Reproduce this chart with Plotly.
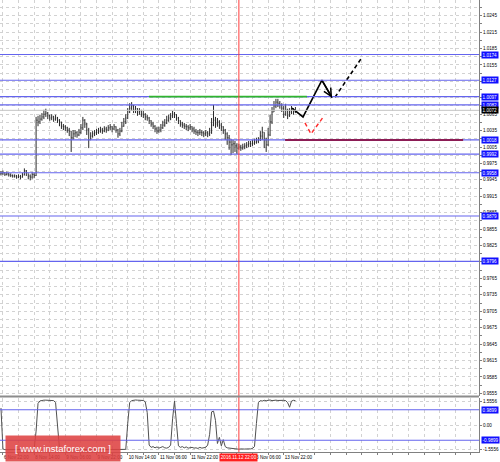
import plotly.graph_objects as go

# ---------------- data ----------------
closes = [
    0.9957, 0.9958, 0.9955, 0.9956, 0.9954, 0.9953, 0.9952, 0.9952, 0.9950, 0.9951,
    0.9950, 0.9954, 0.9962, 0.9958, 0.9952, 0.9950, 0.9955, 0.9953, 1.0054, 1.0051,
    1.0056, 1.0060, 1.0065, 1.0067, 1.0062, 1.0058, 1.0060, 1.0056, 1.0058, 1.0054,
    1.0051, 1.0043, 1.0042, 1.0040, 1.0036, 1.0034, 1.0022, 1.0029, 1.0031, 1.0027,
    1.0032, 1.0040, 1.0054, 1.0047, 1.0036, 1.0018, 1.0025, 1.0029, 1.0031, 1.0032,
    1.0034, 1.0036, 1.0034, 1.0038, 1.0036, 1.0040, 1.0042, 1.0038, 1.0042, 1.0036,
    1.0029, 1.0034, 1.0043, 1.0051, 1.0058, 1.0069, 1.0076, 1.0080, 1.0073, 1.0075,
    1.0069, 1.0071, 1.0065, 1.0064, 1.0060, 1.0058, 1.0053, 1.0047, 1.0043, 1.0038,
    1.0034, 1.0036, 1.0040, 1.0045, 1.0049, 1.0054, 1.0058, 1.0062, 1.0065, 1.0064,
    1.0058, 1.0053, 1.0047, 1.0045, 1.0043, 1.0042, 1.0040, 1.0042, 1.0038, 1.0034,
    1.0032, 1.0031, 1.0032, 1.0031, 1.0029, 1.0031, 1.0029, 1.0032, 1.0045, 1.0054,
    1.0047, 1.0051, 1.0045, 1.0042, 1.0036, 1.0029, 1.0022, 1.0014, 1.0009, 1.0011,
    1.0007, 1.0003, 1.0005, 1.0003, 1.0005, 1.0007, 1.0009, 1.0011, 1.0011, 1.0012,
    1.0014, 1.0016, 1.0018, 1.0025, 1.0032, 1.0018, 1.0009, 1.0027, 1.0051, 1.0069,
    1.0080, 1.0087, 1.0085, 1.0082, 1.0076, 1.0065, 1.0073, 1.0062, 1.0069, 1.0073,
    1.0069, 1.0072,
]
highs = [
    0.9961, 0.9962, 0.9959, 0.9960, 0.9958, 0.9957, 0.9955, 0.9955, 0.9954, 0.9955,
    0.9954, 0.9958, 0.9966, 0.9963, 0.9957, 0.9955, 0.9959, 0.9958, 1.0060, 1.0062,
    1.0064, 1.0067, 1.0073, 1.0075, 1.0069, 1.0064, 1.0065, 1.0062, 1.0064, 1.0060,
    1.0056, 1.0051, 1.0047, 1.0045, 1.0042, 1.0040, 1.0034, 1.0036, 1.0036, 1.0034,
    1.0038, 1.0047, 1.0060, 1.0056, 1.0049, 1.0040, 1.0032, 1.0034, 1.0036, 1.0038,
    1.0040, 1.0042, 1.0040, 1.0043, 1.0042, 1.0045, 1.0047, 1.0043, 1.0047, 1.0043,
    1.0038, 1.0040, 1.0051, 1.0058, 1.0065, 1.0076, 1.0085, 1.0087, 1.0082, 1.0080,
    1.0076, 1.0076, 1.0073, 1.0071, 1.0067, 1.0064, 1.0060, 1.0054, 1.0051, 1.0045,
    1.0042, 1.0042, 1.0047, 1.0053, 1.0056, 1.0062, 1.0064, 1.0067, 1.0071, 1.0069,
    1.0065, 1.0060, 1.0054, 1.0051, 1.0049, 1.0047, 1.0045, 1.0047, 1.0043, 1.0042,
    1.0038, 1.0036, 1.0038, 1.0036, 1.0034, 1.0036, 1.0034, 1.0040, 1.0058, 1.0082,
    1.0060, 1.0058, 1.0054, 1.0049, 1.0043, 1.0038, 1.0032, 1.0027, 1.0020, 1.0018,
    1.0016, 1.0012, 1.0011, 1.0009, 1.0011, 1.0012, 1.0014, 1.0016, 1.0016, 1.0018,
    1.0020, 1.0022, 1.0023, 1.0034, 1.0042, 1.0032, 1.0022, 1.0040, 1.0064, 1.0078,
    1.0089, 1.0093, 1.0093, 1.0089, 1.0085, 1.0080, 1.0084, 1.0075, 1.0076, 1.0080,
    1.0076, 1.0078,
]
lows = [
    0.9953, 0.9954, 0.9952, 0.9953, 0.9951, 0.9950, 0.9949, 0.9949, 0.9947, 0.9948,
    0.9946, 0.9949, 0.9953, 0.9952, 0.9946, 0.9944, 0.9947, 0.9948, 0.9952, 1.0043,
    1.0047, 1.0053, 1.0056, 1.0060, 1.0056, 1.0053, 1.0054, 1.0051, 1.0053, 1.0049,
    1.0043, 1.0038, 1.0036, 1.0034, 1.0031, 1.0025, 0.9996, 1.0018, 1.0023, 1.0022,
    1.0025, 1.0029, 1.0036, 1.0040, 1.0027, 1.0003, 1.0018, 1.0022, 1.0025, 1.0027,
    1.0029, 1.0031, 1.0029, 1.0032, 1.0031, 1.0034, 1.0036, 1.0032, 1.0036, 1.0031,
    1.0022, 1.0025, 1.0032, 1.0042, 1.0047, 1.0056, 1.0067, 1.0071, 1.0067, 1.0067,
    1.0062, 1.0064, 1.0060, 1.0058, 1.0054, 1.0053, 1.0047, 1.0042, 1.0038, 1.0032,
    1.0029, 1.0031, 1.0032, 1.0038, 1.0042, 1.0047, 1.0051, 1.0054, 1.0058, 1.0058,
    1.0053, 1.0047, 1.0042, 1.0040, 1.0038, 1.0036, 1.0034, 1.0036, 1.0032, 1.0029,
    1.0027, 1.0025, 1.0027, 1.0025, 1.0023, 1.0025, 1.0023, 1.0025, 1.0029, 1.0043,
    1.0040, 1.0042, 1.0038, 1.0034, 1.0029, 1.0018, 1.0009, 1.0000, 0.9990, 0.9994,
    0.9996, 0.9992, 1.0000, 0.9998, 1.0000, 1.0001, 1.0003, 1.0005, 1.0005, 1.0007,
    1.0009, 1.0011, 1.0012, 1.0016, 1.0018, 1.0003, 0.9996, 1.0007, 1.0025, 1.0047,
    1.0069, 1.0076, 1.0078, 1.0075, 1.0069, 1.0058, 1.0062, 1.0056, 1.0060, 1.0065,
    1.0064, 1.0067,
]
first_open = 0.9956

indicator = [
    1.10, -1.55, -1.60, -1.60, -1.61, -1.60, -1.61, -1.60, -1.60, -1.61,
    -1.60, -1.60, -1.59, -1.60, -1.61, -1.60, -1.60, -1.58, -0.40, 1.40,
    1.56, 1.60, 1.61, 1.61, 1.60, 1.61, 1.60, 1.58, 1.45, -0.30,
    -1.52, -1.60, -1.61, -1.60, -1.60, -1.61, -1.60, -1.60, -1.61, -1.60,
    -1.60, -1.61, -1.60, -1.60, -1.60, -1.61, -1.60, -1.60, -1.61, -1.60,
    -1.60, -1.61, -1.60, -1.60, -1.60, -1.61, -1.60, -1.60, -1.61, -1.60,
    -1.60, -1.61, -1.60, -1.60, -1.58, 0.10, 1.45, 1.58, 1.61, 1.62,
    1.61, 1.61, 1.60, 1.59, 1.50, 0.80, -1.30, -1.45, -1.40, -1.48,
    -1.42, -1.50, -1.45, -1.40, -1.48, -1.50, -1.45, -1.30, 0.40, 1.55,
    0.10, -1.35, -1.45, -1.40, -1.48, -1.42, -1.50, -1.47, -1.45, -1.50,
    -1.48, -1.52, -1.45, -1.50, -1.48, -1.45, -1.30, -0.60, 0.85, 0.90,
    0.30, -1.20, -0.80, -1.35, -0.95, -1.40, -1.48, -1.50, -1.52, -1.50,
    -1.55, -1.55, -1.57, -1.55, -1.57, -1.56, -1.55, -1.57, -1.55, -1.52,
    -1.40, 0.10, 1.45, 1.58, 1.55, 1.60, 1.57, 1.60, 1.62, 1.58,
    1.60, 1.61, 1.59, 1.60, 1.62, 1.60, 1.58, 1.45, 1.15, 1.55,
    1.60, 1.58,
]

price_tick_values = [1.0275, 1.0245, 1.0215, 1.0185, 1.0155, 1.0125, 1.0095, 1.0065,
                     1.0035, 1.0005, 0.9975, 0.9945, 0.9915, 0.9885, 0.9855, 0.9825,
                     0.9795, 0.9765, 0.9735, 0.9705, 0.9675, 0.9645, 0.9615, 0.9585, 0.9555]
time_tick_bars = [1, 17, 33, 49, 65, 81, 97, 113, 129, 145]
time_tick_labels = ["6 Nov 22:00", "8 Nov 14:00", "9 Nov 06:00", "9 Nov 22:00",
                    "10 Nov 14:00", "11 Nov 06:00", "11 Nov 22:00", "12 Nov 14:00",
                    "13 Nov 06:00", "13 Nov 22:00"]

level_values = [1.0174, 1.0127, 1.0097, 1.0082, 1.0018, 0.9992, 0.9958, 0.9879, 0.9796]
current_price = 1.0072
green_level = 1.0097
green_span = [75.9, 156.9]
purple_level = 1.0018
purple_span = [145.7, 237.0]
marker_bar = 122
marker_label = "2016.11.12 22:00"

ind_ticks = [1.5556, 0.0, -1.5556]
ind_tick_labels = ["1.5556", "0.00", "-1.5556"]
ind_levels = [0.9899, -0.9899]

forecast_solid_x = [149.2, 154.9, 164.6, 169.8]
forecast_solid_y = [1.0076, 1.0060, 1.0127, 1.0095]
forecast_dash_x = [171.3, 184.6]
forecast_dash_y = [1.0096, 1.0166]
alt_dash_x = [155.9, 159.0, 165.7]
alt_dash_y = [1.0049, 1.0029, 1.0062]

# ---------------- figure ----------------
W, H = 500, 462
bar_index = list(range(len(closes)))
opens = [first_open] + closes[:-1]

X_RIGHT = 479 / W
Y_MAIN = [(H - 396) / H, 1.0]
Y_IND = [(H - 452) / H, (H - 398) / H]
FONT = "Liberation Sans, Arial, sans-serif"
FS = 4.6
GRID = "#d2d2d2"

fig = go.Figure()
fig.add_trace(go.Ohlc(
    x=bar_index, open=opens, high=highs, low=lows, close=closes,
    xaxis="x", yaxis="y", tickwidth=0.3,
    increasing=dict(line=dict(color="#2a2a2a", width=1)),
    decreasing=dict(line=dict(color="#2a2a2a", width=1)),
    hoverinfo="skip",
))
fig.add_trace(go.Scatter(
    x=bar_index, y=indicator, xaxis="x", yaxis="y2", mode="lines",
    line=dict(color="#505050", width=1), hoverinfo="skip",
))
# forecast drawings
fig.add_trace(go.Scatter(x=forecast_solid_x, y=forecast_solid_y, mode="lines",
                         line=dict(color="black", width=1.6), hoverinfo="skip"))
fig.add_trace(go.Scatter(x=forecast_dash_x, y=forecast_dash_y, mode="lines",
                         line=dict(color="black", width=1.6, dash="4px,3px"), hoverinfo="skip"))
fig.add_trace(go.Scatter(x=alt_dash_x, y=alt_dash_y, mode="lines",
                         line=dict(color="#ff2a2a", width=1.4, dash="4px,3px"), hoverinfo="skip"))

shapes = []
shapes.append(dict(type="line", xref="x domain", yref="y", x0=0, x1=1,
                   y0=current_price, y1=current_price, line=dict(color="#c4c4c4", width=1)))
for v in level_values:
    shapes.append(dict(type="line", xref="x domain", yref="y", x0=0, x1=1, y0=v, y1=v,
                       line=dict(color="#6464ee", width=1.2)))
shapes.append(dict(type="line", xref="x", yref="y", x0=green_span[0], x1=green_span[1],
                   y0=green_level, y1=green_level, line=dict(color="#2fb52f", width=1.6)))
shapes.append(dict(type="line", xref="x", yref="y", x0=purple_span[0], x1=purple_span[1],
                   y0=purple_level, y1=purple_level, line=dict(color="#8c1c55", width=2)))
for v in ind_levels:
    shapes.append(dict(type="line", xref="x domain", yref="y2", x0=0, x1=1, y0=v, y1=v,
                       line=dict(color="#6464ee", width=1.2)))
shapes.append(dict(type="line", xref="x", yref="paper", x0=marker_bar, x1=marker_bar,
                   y0=Y_IND[0], y1=1, line=dict(color="#ff3b3b", width=1)))
shapes.append(dict(type="line", xref="paper", yref="paper", x0=0, x1=X_RIGHT,
                   y0=(H - 396.5) / H, y1=(H - 396.5) / H, line=dict(color="#8c8c8c", width=2)))

annotations = []
for v in level_values:
    annotations.append(dict(xref="x domain", yref="y", x=1, y=v, xanchor="left", yanchor="middle",
                            xshift=1.5, text=f"{v:.4f}", showarrow=False, bgcolor="#1010ff",
                            borderpad=0.6, font=dict(color="white", size=FS, family=FONT)))
annotations.append(dict(xref="x domain", yref="y", x=1, y=current_price, xanchor="left",
                        yanchor="middle", xshift=1.5, text=f"{current_price:.4f}", showarrow=False,
                        bgcolor="black", borderpad=0.6, font=dict(color="white", size=FS, family=FONT)))
for v in ind_levels:
    annotations.append(dict(xref="x domain", yref="y2", x=1, y=v, xanchor="left", yanchor="middle",
                            xshift=1.5, text=f"{v:.4f}", showarrow=False, bgcolor="#1010ff",
                            borderpad=0.6, font=dict(color="white", size=FS, family=FONT)))
# arrowheads
annotations.append(dict(xref="x", yref="y", axref="x", ayref="y",
                        x=forecast_solid_x[-1], y=forecast_solid_y[-1],
                        ax=forecast_solid_x[-2], ay=forecast_solid_y[-2], text="",
                        showarrow=True, arrowhead=5, arrowsize=1.1, arrowwidth=1.4, arrowcolor="black"))
annotations.append(dict(xref="x", yref="y", axref="x", ayref="y",
                        x=forecast_dash_x[-1], y=forecast_dash_y[-1],
                        ax=forecast_dash_x[-1] - 1.0, ay=forecast_dash_y[-1] - 0.0005, text="",
                        showarrow=True, arrowhead=5, arrowsize=1.1, arrowwidth=1.4, arrowcolor="black"))
annotations.append(dict(xref="x", yref="y", axref="x", ayref="y",
                        x=alt_dash_x[-1], y=alt_dash_y[-1],
                        ax=alt_dash_x[-1] - 0.8, ay=alt_dash_y[-1] - 0.0004, text="",
                        showarrow=True, arrowhead=5, arrowsize=1.0, arrowwidth=1.3, arrowcolor="#ff2a2a"))
# marker date label
annotations.append(dict(xref="x", yref="paper", x=marker_bar, y=(H - 457) / H,
                        xanchor="center", yanchor="middle", text=marker_label, showarrow=False,
                        bgcolor="#ff1f1f", borderpad=0.8, font=dict(color="white", size=FS, family=FONT)))
# watermark
annotations.append(dict(xref="paper", yref="paper", x=63 / W, y=(H - 448.5) / H,
                        xanchor="center", yanchor="middle", width=112, height=23,
                        text="[ www.instaforex.com ]", showarrow=False,
                        bgcolor="rgba(222,66,66,0.88)",
                        font=dict(color="white", size=9.6, family=FONT)))

# grids: half-step lines between labelled ticks; labels hidden behind level tags are left blank
covered = level_values + [current_price]
grid_y = []
grid_y_text = []
for i, v in enumerate(price_tick_values):
    grid_y.append(v)
    hidden = any(abs(v - c) < 0.00045 for c in covered)
    grid_y_text.append("" if hidden else f"{v:.4f}")
    if i < len(price_tick_values) - 1:
        grid_y.append(round(v - 0.0015, 4))
        grid_y_text.append("")
grid_x = []
grid_x_text = []
for k in range(31):
    b = 1 + 8 * k
    grid_x.append(b)
    if b in time_tick_bars:
        grid_x_text.append(time_tick_labels[time_tick_bars.index(b)])
    else:
        grid_x_text.append("")

fig.update_layout(
    width=W, height=H,
    margin=dict(l=0, r=0, t=0, b=0),
    paper_bgcolor="white", plot_bgcolor="white",
    showlegend=False, hovermode=False,
    font=dict(family=FONT, size=FS, color="black"),
    xaxis=dict(domain=[0, X_RIGHT], range=[-0.5, 479 / 1.95 - 0.5], anchor="y2",
               tickmode="array", tickvals=grid_x, ticktext=grid_x_text, tickangle=0,
               ticks="outside", ticklen=2, tickcolor="#808080",
               ticklabelposition="outside right",
               showgrid=True, gridcolor=GRID, griddash="dot", gridwidth=1,
               showline=True, linecolor="#808080", linewidth=1,
               zeroline=False, rangeslider=dict(visible=False), automargin=False,
               tickfont=dict(size=FS, color="black", family=FONT)),
    yaxis=dict(domain=Y_MAIN, range=[0.95501, 1.02736], side="right", anchor="x",
               tickmode="array", tickvals=grid_y, ticktext=grid_y_text,
               ticks="outside", ticklen=2, tickcolor="#808080",
               showgrid=True, gridcolor=GRID, griddash="dot", gridwidth=1,
               showline=True, linecolor="#808080", linewidth=1,
               zeroline=False, automargin=False,
               tickfont=dict(size=FS, color="black", family=FONT)),
    yaxis2=dict(domain=Y_IND, range=[-1.75, 1.75], side="right", anchor="x",
                tickmode="array", tickvals=ind_ticks, ticktext=ind_tick_labels,
                ticks="outside", ticklen=2, tickcolor="#808080",
                showgrid=True, gridcolor=GRID, griddash="dot", gridwidth=1,
                showline=True, linecolor="#808080", linewidth=1,
                zeroline=False, automargin=False,
                tickfont=dict(size=FS, color="black", family=FONT)),
    shapes=shapes,
    annotations=annotations,
)

fig.write_html(
    "out.html",
    config={"displayModeBar": False},
    post_script="document.body.style.margin='0';document.body.style.overflow='hidden';",
)
